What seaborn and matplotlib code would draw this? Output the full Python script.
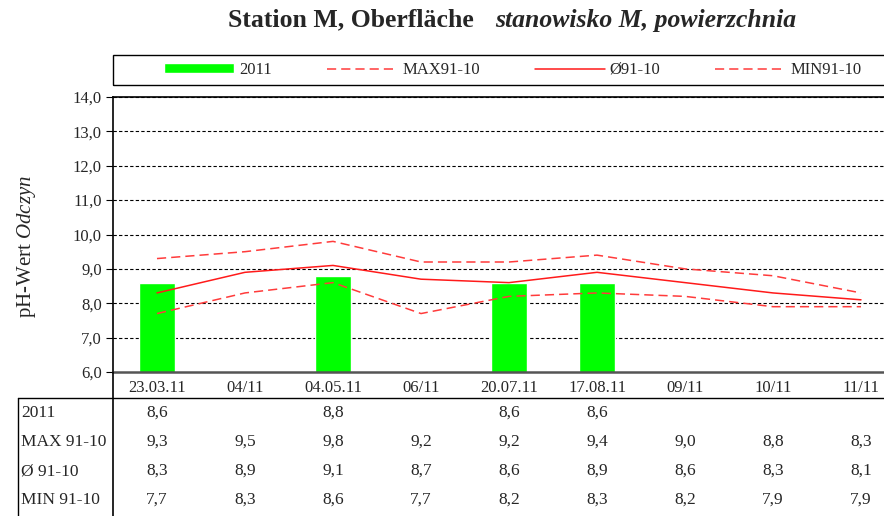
import numpy as np
import pandas as pd
import matplotlib.pyplot as plt
import seaborn as sns
from matplotlib.lines import Line2D
from matplotlib.patches import Rectangle
from matplotlib.transforms import blended_transform_factory

# ---- data ----
dates = ["23.03.11", "04/11", "04.05.11", "06/11", "20.07.11",
         "17.08.11", "09/11", "10/11", "11/11"]
vals_2011 = [8.6, np.nan, 8.8, np.nan, 8.6, 8.6, np.nan, np.nan, np.nan]
max_91_10 = [9.3, 9.5, 9.8, 9.2, 9.2, 9.4, 9.0, 8.8, 8.3]
avg_91_10 = [8.3, 8.9, 9.1, 8.7, 8.6, 8.9, 8.6, 8.3, 8.1]
min_91_10 = [7.7, 8.3, 8.6, 7.7, 8.2, 8.3, 8.2, 7.9, 7.9]
row_labels = ["2011", "MAX 91-10", "Ø 91-10", "MIN 91-10"]

sns.set_theme(style="white")
plt.rcParams["font.family"] = ["Liberation Serif", "DejaVu Serif"]
plt.rcParams["mathtext.fontset"] = "custom"
plt.rcParams["mathtext.rm"] = "Liberation Serif"
plt.rcParams["mathtext.it"] = "Liberation Serif:italic"

W, H = 884, 516
fig = plt.figure(figsize=(W / 100, H / 100), dpi=100)
fx = lambda px: px / W
fy = lambda py: 1 - py / H

ax = fig.add_axes([fx(113), fy(372), fx(905) - fx(113), fy(97) - fy(372)])

df = pd.DataFrame({"date": dates, "val": vals_2011})
sns.barplot(data=df, x="date", y="val", order=dates, color="#00ff00",
            saturation=1, width=0.41, ax=ax, label="2011", zorder=2)

xs = np.arange(len(dates))
dash = (0, (6, 3.3))
sns.lineplot(x=xs, y=max_91_10, ax=ax, color="#ff3b3b", lw=1.1,
             linestyle=dash, label="MAX91-10", zorder=3)
sns.lineplot(x=xs, y=avg_91_10, ax=ax, color="#ff1a1a", lw=1.1,
             label="Ø91-10", zorder=3)
sns.lineplot(x=xs, y=min_91_10, ax=ax, color="#ff3b3b", lw=1.1,
             linestyle=dash, label="MIN91-10", zorder=3)

ax.set_xlim(-0.5, 8.5)
ax.set_ylim(6, 14)
ticks = np.arange(6, 15, 1)
ax.set_yticks(ticks)
ax.set_yticklabels([f"{v:.1f}".replace(".", ",") for v in ticks])
for y in range(7, 15):
    ax.axhline(y, color="black", lw=0.8, linestyle=(0, (3, 2)), zorder=0)
ax.set_xlabel("")
ax.set_ylabel("")
ax.tick_params(axis="y", length=5, width=0.8, color="black", left=True,
               labelsize=12, pad=3)
ax.tick_params(axis="x", length=0, labelsize=12, pad=6)
for s in ["left", "top"]:
    ax.spines[s].set_color("black")
    ax.spines[s].set_linewidth(1.2)
ax.spines["bottom"].set_color("#555555")
ax.spines["bottom"].set_linewidth(1.8)
ax.spines["right"].set_visible(False)

# legend: bar entry first
handles, labels = ax.get_legend_handles_labels()
ax.get_legend().remove()
order = [labels.index(l) for l in ["2011", "MAX91-10", "Ø91-10", "MIN91-10"]]
fig.legend([handles[i] for i in order], [labels[i] for i in order],
           loc="center", ncol=4, frameon=False,
           bbox_to_anchor=(fx(513), fy(70)), fontsize=12,
           handlelength=4.2, handleheight=0.5, columnspacing=3.3,
           handletextpad=0.3)
fig.add_artist(Rectangle((fx(113), fy(85)), fx(900) - fx(113), fy(55) - fy(85),
                         transform=fig.transFigure, fill=False, ec="black", lw=1))

# title
fig.text(fx(474), fy(20), "Station M, Oberfläche", ha="right", va="center",
         fontsize=18.5, fontweight="bold")
fig.text(fx(495), fy(20), "stanowisko M, powierzchnia", ha="left", va="center",
         fontsize=18.5, fontweight="bold", style="italic")

# y label
fig.text(fx(26), fy(246), r"pH-Wert $\mathit{Odczyn}$", rotation=90,
         ha="center", va="center", fontsize=15)

# data table below
trans = blended_transform_factory(ax.transData, fig.transFigure)
rows = [vals_2011, max_91_10, avg_91_10, min_91_10]
row_y = [413, 442, 471, 500]
for lab, vals, ry in zip(row_labels, rows, row_y):
    fig.text(fx(21), fy(ry), lab, ha="left", va="center", fontsize=12.5)
    for i, v in enumerate(vals):
        if not np.isnan(v):
            ax.text(i, fy(ry), f"{v:.1f}".replace(".", ","), transform=trans,
                    ha="center", va="center", fontsize=12.5, clip_on=False)
fig.add_artist(Line2D([fx(18), 1], [fy(398), fy(398)], color="black", lw=1))
fig.add_artist(Line2D([fx(18), fx(18)], [fy(398), 0], color="black", lw=1))
fig.add_artist(Line2D([fx(113), fx(113)], [fy(372), 0], color="black", lw=1.2))

fig.savefig("out.png", dpi=100)
